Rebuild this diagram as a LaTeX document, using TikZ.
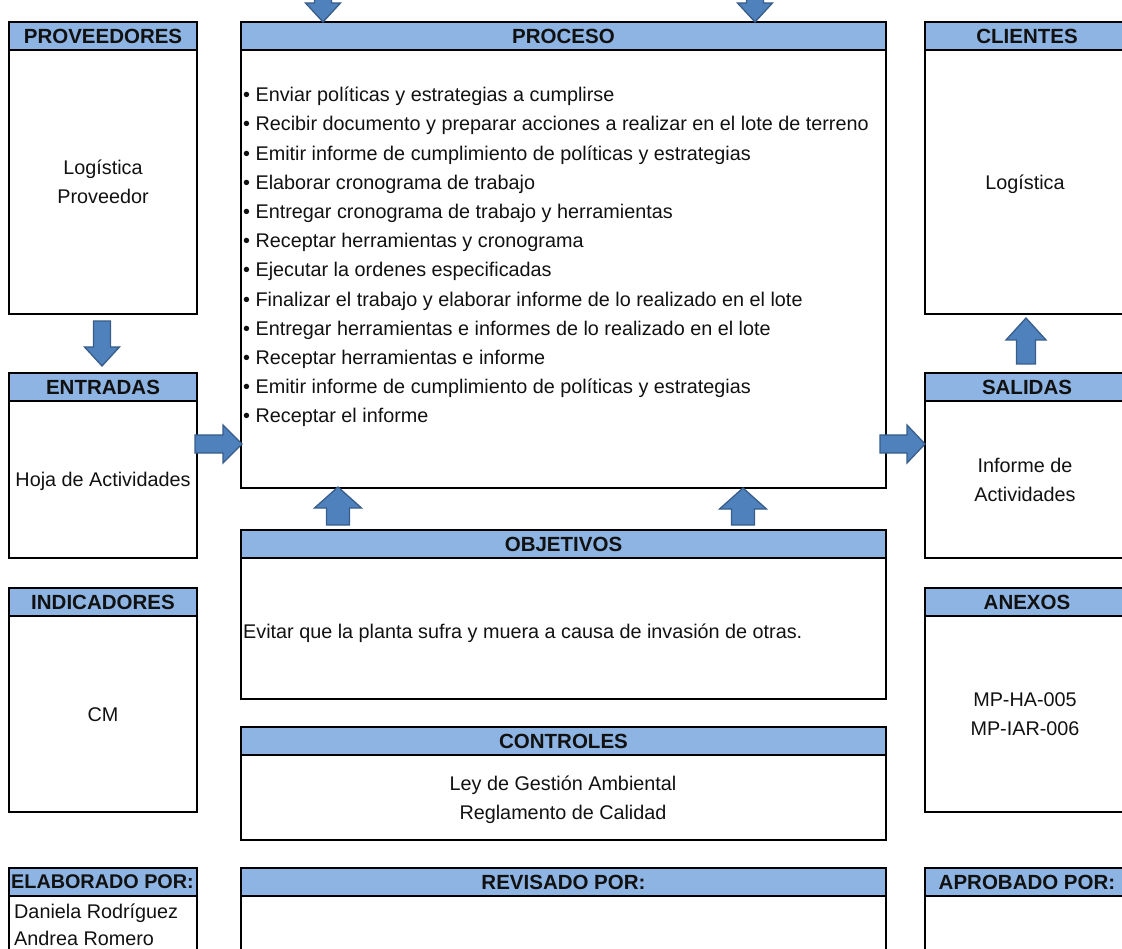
\documentclass[tikz,border=0pt]{standalone}
\usepackage{fontspec}
\setmainfont{Liberation Sans}
\begin{document}
\definecolor{headfill}{HTML}{8DB4E2}
\definecolor{arrowfill}{HTML}{4F81BD}
\definecolor{arrowline}{HTML}{385D8A}
\definecolor{ink}{HTML}{111111}
\tikzset{
  headbox/.style={draw=black, line width=2pt, fill=headfill},
  bodybox/.style={draw=black, line width=2pt},
  headtext/.style={font=\fontsize{20.5}{22}\selectfont\bfseries, text=ink, inner sep=0pt},
  bodytext/.style={font=\fontsize{19.8}{28.5}\selectfont, text=ink, inner sep=0pt, align=center},
  blockarrow/.style={fill=arrowfill, draw=arrowline, line width=1.3pt, line join=miter}
}
% panel: name, x0, x1, header top, header bottom, body bottom
\newcommand\panel[6]{%
  \draw[bodybox] (#2,#5) rectangle (#3,#6);
  \draw[headbox] (#2,#4) rectangle (#3,#5);
  \coordinate (#1-h) at ({(#2+#3)/2},{(#4+#5)/2});
  \coordinate (#1-b) at ({(#2+#3)/2},{(#5+#6)/2});
}
% block arrow: tip x, tip y, rotation, length, head length, head half width, shaft half width
\newcommand\blockarr[7]{%
  \begin{scope}[shift={(#1,#2)}, rotate=#3]
    \draw[blockarrow] (0,0) -- (-#5,#6) -- (-#5,#7) -- (-#4,#7) -- (-#4,-#7)
      -- (-#5,-#7) -- (-#5,-#6) -- cycle;
  \end{scope}}
\begin{tikzpicture}[x=1pt, y=-1pt]
\useasboundingbox (0,0) rectangle (1122,949);
\clip (0,0) rectangle (1122,949);

% left column
\panel{prov}{9}{197}{22}{50}{314}
\panel{ent}{9}{197}{373}{401}{558}
\panel{ind}{9}{197}{588}{616}{812}
\panel{elab}{9}{197}{868}{896}{980}
% centre column
\panel{proc}{241}{886}{22}{50}{488}
\panel{obj}{241}{886}{530}{558}{699}
\panel{ctrl}{241}{886}{727}{755}{840}
\panel{rev}{241}{886}{868}{896}{980}
% right column
\panel{cli}{925}{1129}{22}{50}{314}
\panel{sal}{925}{1129}{373}{401}{558}
\panel{anx}{925}{1129}{588}{616}{812}
\panel{apr}{925}{1129}{868}{896}{980}

% headers
\node[headtext] (tprov) at (prov-h) {PROVEEDORES};
\node[headtext] (tent) at (ent-h) {ENTRADAS};
\node[headtext] (tind) at (ind-h) {INDICADORES};
\node[headtext, anchor=west, font=\fontsize{19.8}{22}\selectfont\bfseries] (telab) at (11,882) {ELABORADO POR:};
\node[headtext] (tproc) at (proc-h) {PROCESO};
\node[headtext] (tobj) at (obj-h) {OBJETIVOS};
\node[headtext] (tctrl) at (ctrl-h) {CONTROLES};
\node[headtext] (trev) at (rev-h) {REVISADO POR:};
\node[headtext] (tcli) at (1027,36) {CLIENTES};
\node[headtext] (tsal) at (1027,387) {SALIDAS};
\node[headtext] (tanx) at (1027,602) {ANEXOS};
\node[headtext] (tapr) at (1027,882) {APROBADO POR:};

% contents
\node[bodytext] (cprov) at (103,182) {Logística\\Proveedor};
\node[bodytext] (cent) at (103,481) {Hoja de Actividades};
\node[bodytext] (cind) at (103,715) {CM};
\node[bodytext, anchor=west, align=left] (celab) at (14,925) {Daniela Rodríguez\\[-2pt]Andrea Romero};
\node[bodytext] (ccli) at (1025,184) {Logística};
\node[bodytext] (csal) at (1025,480) {Informe de\\Actividades};
\node[bodytext] (canx) at (1025,714) {MP-HA-005\\MP-IAR-006};
\node[bodytext, anchor=west] (cobj) at (243,633) {Evitar que la planta sufra y muera a causa de invasión de otras.};
\node[bodytext] (cctrl) at (563,800) {Ley de Gestión Ambiental\\Reglamento de Calidad};

\node[bodytext, anchor=north west, align=left, font=\fontsize{19.8}{29.2}\selectfont] (cproc) at (243,87) {%
• Enviar políticas y estrategias a cumplirse\\
• Recibir documento y preparar acciones a realizar en el lote de terreno\\
• Emitir informe de cumplimiento de políticas y estrategias\\
• Elaborar cronograma de trabajo\\
• Entregar cronograma de trabajo y herramientas\\
• Receptar herramientas y cronograma\\
• Ejecutar la ordenes especificadas\\
• Finalizar el trabajo y elaborar informe de lo realizado en el lote\\
• Entregar herramientas e informes de lo realizado en el lote\\
• Receptar herramientas e informe\\
• Emitir informe de cumplimiento de políticas y estrategias\\
• Receptar el informe};

% flow arrows
\blockarr{323}{22}{-90}{45}{19}{17.5}{8.5}
\blockarr{755}{22}{-90}{45}{19}{17.5}{8.5}
\blockarr{102}{366}{-90}{45}{19}{17.5}{8.5}
\blockarr{242}{444}{0}{47}{19}{19}{9}
\blockarr{925}{444}{0}{45}{18}{19}{9}
\blockarr{1026}{318}{90}{46}{22}{20}{9.5}
\blockarr{338}{487}{90}{38}{21}{23.5}{11.5}
\blockarr{743}{488}{90}{37}{21}{23.5}{11.5}
\end{tikzpicture}
\end{document}
